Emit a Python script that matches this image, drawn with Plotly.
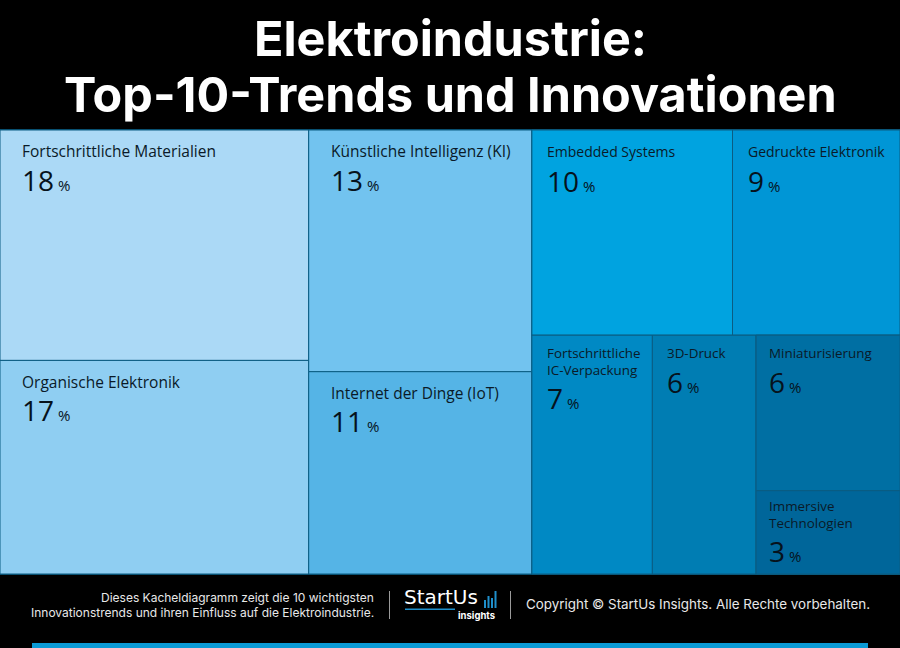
import plotly.graph_objects as go

W, H = 900, 648
TOP, BOTTOM = 130, 574

title_lines = ["Elektroindustrie:", "Top-10-Trends und Innovationen"]

# leaf tiles
trend_labels = ["Fortschrittliche Materialien", "Organische Elektronik",
                "Künstliche Intelligenz (KI)", "Internet der Dinge (IoT)",
                "Embedded Systems", "Gedruckte Elektronik",
                "Fortschrittliche<br>IC-Verpackung", "3D-Druck",
                "Miniaturisierung", "Immersive<br>Technologien"]
shown_percent = [18, 17, 13, 11, 10, 9, 7, 6, 6, 3]
tile_sizes = [178, 165, 135, 113, 103, 86, 72, 62, 56, 30]
tile_colors = ["#ABD9F6", "#8FCEF2", "#72C3EF", "#55B4E6", "#00A3E0",
               "#0096D6", "#0089C4", "#007DB3", "#006FA3", "#00669A"]
tile_parents = ["c1", "c1", "c2", "c2", "r1", "r1", "r2", "r2", "s", "s"]

# grouping nodes: id, parent
group_ids = ["root", "c1", "c2", "c3", "r1", "r2", "s"]
group_parents = ["", "root", "root", "root", "c3", "c3", "r2"]

leaf_ids = [f"t{i}" for i in range(len(tile_sizes))]


def total(node):
    s = sum(v for v, p in zip(tile_sizes, tile_parents) if p == node)
    s += sum(total(g) for g, p in zip(group_ids, group_parents) if p == node)
    return s


group_values = [total(g) for g in group_ids]

fig = go.Figure(go.Treemap(
    ids=leaf_ids + group_ids,
    labels=[l.replace("<br>", " ") for l in trend_labels] + group_ids,
    parents=tile_parents + group_parents,
    values=tile_sizes + group_values,
    branchvalues="total",
    sort=False,
    textinfo="none",
    hoverinfo="label+value",
    tiling=dict(packing="slice-dice", pad=0),
    pathbar=dict(visible=False),
    root=dict(color="#000000"),
    marker=dict(colors=tile_colors + ["#0089C4"] * len(group_ids),
                line=dict(color="#0B5C82", width=1),
                pad=dict(t=0, l=0, r=0, b=0)),
    domain=dict(x=[0, 1], y=[1 - BOTTOM / H, 1 - TOP / H]),
))

# tile origins from the same sizes, to anchor the text
tw = BOTTOM - TOP
all_v = total("root")
c1w = W * total("c1") / all_v
c2w = W * total("c2") / all_v
c3w = W * total("c3") / all_v
r1h = tw * total("r1") / total("c3")
r2h = tw - r1h
x3 = c1w + c2w
y2 = TOP + r1h
w6 = c3w * tile_sizes[6] / total("r2")
w7 = c3w * tile_sizes[7] / total("r2")
xs = x3 + w6 + w7
origins = [
    (0, TOP), (0, TOP + tw * tile_sizes[0] / total("c1")),
    (c1w, TOP), (c1w, TOP + tw * tile_sizes[2] / total("c2")),
    (x3, TOP), (x3 + c3w * tile_sizes[4] / total("r1"), TOP),
    (x3, y2), (x3 + w6, y2),
    (xs, y2), (xs, y2 + r2h * tile_sizes[8] / total("s")),
]
pad_left = [21, 21, 21, 21, 14, 14, 14, 14, 12, 12]
label_dy = [21, 22, 21, 21, 22, 22, 26, 18, 18, 24]
value_dy = [50, 50, 50, 49, 51, 51, 63, 47, 47, 60]
label_size = [15.5, 15.5, 15.5, 15.5, 14, 14, 13.4, 13.4, 13.4, 13.4]

annotations = []
FONT = "Open Sans"
for (ox, oy), name, pct, pl, ld, vd, ls in zip(origins, trend_labels, shown_percent,
                                               pad_left, label_dy, value_dy, label_size):
    annotations.append(dict(x=(ox + pl) / W, y=1 - (oy + ld) / H,
                            xref="paper", yref="paper", text=name, showarrow=False,
                            xanchor="left", yanchor="middle", align="left", borderpad=0,
                            font=dict(family=FONT, size=ls, color="#0A1A28")))
    annotations.append(dict(x=(ox + pl) / W, y=1 - (oy + vd) / H, xref="paper", yref="paper",
                            text=f'{pct}<span style="font-size:15px"> %</span>',
                            showarrow=False, xanchor="left", yanchor="middle", borderpad=0,
                            font=dict(family=FONT, size=28, color="#06121C")))


def txt(x, y, text, size, color="#E8E8E8", anchor="left", family="Inter", align=None):
    annotations.append(dict(x=x / W, y=1 - y / H, xref="paper", yref="paper", text=text,
                            showarrow=False, xanchor=anchor, yanchor="middle", borderpad=0,
                            align=align or anchor, font=dict(family=family, size=size, color=color)))


txt(450, 38, f"<b>{title_lines[0]}</b>", 48.5, "#FFFFFF", "center")
txt(450, 95, f"<b>{title_lines[1]}</b>", 48.5, "#FFFFFF", "center")
txt(375, 597, "Dieses Kacheldiagramm zeigt die 10 wichtigsten", 12, anchor="right")
txt(375, 612, "Innovationstrends und ihren Einfluss auf die Elektroindustrie.", 12, anchor="right")
txt(525, 604, "Copyright © StartUs Insights. Alle Rechte vorbehalten.", 13.4)
txt(403, 597, "StartUs", 20, "#FFFFFF", family="DejaVu Sans")
txt(496, 616, "<b>insights</b>", 9.5, "#FFFFFF", "right")


def rect(x0, y0, x1, y1, color):
    return dict(type="rect", xref="paper", yref="paper", x0=x0 / W, x1=x1 / W,
                y0=1 - y0 / H, y1=1 - y1 / H, fillcolor=color, line_width=0, layer="above")


shapes = [
    rect(32, 643, 868, 648, "#0A9AD5"),
    rect(389, 591, 390, 619, "#9A9A9A"),
    rect(510, 591, 511, 619, "#9A9A9A"),
    rect(405, 608.5, 455, 610, "#1F8FCB"),
    rect(484, 600, 486, 608, "#1F8FCB"),
    rect(487.5, 596, 489.5, 608, "#1F8FCB"),
    rect(491, 598, 493, 608, "#1F8FCB"),
    rect(494.5, 591, 496.5, 608, "#1F8FCB"),
]

fig.update_layout(width=W, height=H, margin=dict(l=0, r=0, t=0, b=0, pad=0),
                  paper_bgcolor="#000000", plot_bgcolor="#000000",
                  annotations=annotations, shapes=shapes, showlegend=False)
fig.write_html("out.html", config=dict(displayModeBar=False),
               post_script="document.body.style.margin='0';document.body.style.background='#000';")
